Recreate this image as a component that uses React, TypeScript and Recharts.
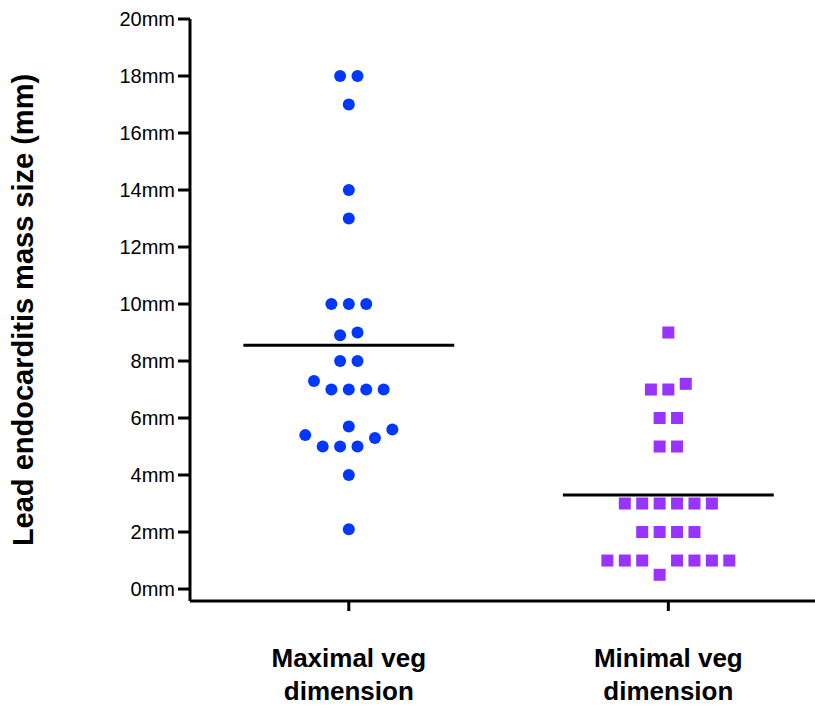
import {
  ReferenceLine,
  Scatter,
  ScatterChart,
  XAxis,
  YAxis,
} from 'recharts'

const maxValues = [18, 18, 17, 14, 13, 10, 10, 10, 8.9, 9, 8, 8, 7.3, 7, 7, 7, 7, 5.7, 5.4, 5.6, 5.3, 5, 5, 5, 4, 2.1]
const maxSlots = [-0.5, 0.5, 0, 0, 0, -1, 0, 1, -0.5, 0.5, -0.5, 0.5, -2, -1, 0, 1, 2, 0, -2.5, 2.5, 1.5, -1.5, -0.5, 0.5, 0, 0]

const minValues = [9, 7, 7, 7.2, 6, 6, 5, 5, 3, 3, 3, 3, 3, 3, 2, 2, 2, 2, 1, 1, 1, 1, 1, 1, 1, 0.5]
const minSlots = [0, -1, 0, 1, -0.5, 0.5, -0.5, 0.5, -2.5, -1.5, -0.5, 0.5, 1.5, 2.5, -1.5, -0.5, 0.5, 1.5, -3.5, -2.5, -1.5, 0.5, 1.5, 2.5, 3.5, -0.5]

const groupLabels = [
  ['Maximal veg', 'dimension'],
  ['Minimal veg', 'dimension'],
]
const yTicks = [0, 2, 4, 6, 8, 10, 12, 14, 16, 18, 20]
const yTitle = 'Lead  endocarditis mass size (mm)'

const SLOT = 0.0545
const FONT = 'Liberation Sans, Arial, Helvetica, sans-serif'

const toPoints = (group: number, values: number[], slots: number[]) =>
  values.map((v, i) => ({ x: group + slots[i] * SLOT, y: v }))

const mean = (values: number[]) => values.reduce((a, b) => a + b, 0) / values.length

const maxData = toPoints(1, maxValues, maxSlots)
const minData = toPoints(2, minValues, minSlots)
const maxMean = mean(maxValues)
const minMean = mean(minValues)

const Dot = (props: any) => <circle cx={props.cx} cy={props.cy} r={6} fill="#0038ff" />
const Square = (props: any) => (
  <rect x={props.cx - 6} y={props.cy - 6} width={12} height={12} fill="#9933ff" />
)

const XTick = (props: any) => {
  const { x, y, payload } = props
  const lines = groupLabels[payload.value - 1] || []
  return (
    <text x={x} y={y} textAnchor="middle" fontFamily={FONT} fontWeight="bold" fontSize={26} fill="#000">
      {lines.map((line, i) => (
        <tspan key={i} x={x} dy={i === 0 ? 54 : 33}>
          {line}
        </tspan>
      ))}
    </text>
  )
}

const YTitle = (props: any) => {
  const vb = props.viewBox
  const x = vb.x + 33
  const y = vb.y + vb.height / 2
  return (
    <text
      x={x}
      y={y}
      transform={`rotate(-90, ${x}, ${y})`}
      textAnchor="middle"
      fontFamily={FONT}
      fontWeight="bold"
      fontSize={29}
      fill="#000"
    >
      {yTitle}
    </text>
  )
}

export default function App() {
  return (
    <div style={{ position: 'absolute', left: 0, top: 0, background: '#fff' }}>
      <ScatterChart width={815} height={715} margin={{ top: 19, right: 0, bottom: 0, left: 0 }}>
        <XAxis
          type="number"
          dataKey="x"
          domain={[0.503, 2.459]}
          ticks={[1, 2]}
          allowDataOverflow
          height={114}
          axisLine={{ stroke: '#000', strokeWidth: 3 }}
          tickLine={{ stroke: '#000', strokeWidth: 3 }}
          tickSize={10}
          tick={<XTick />}
        />
        <YAxis
          type="number"
          dataKey="y"
          domain={[-0.42, 20]}
          ticks={yTicks}
          allowDataOverflow
          width={190}
          axisLine={{ stroke: '#000', strokeWidth: 3 }}
          tickLine={{ stroke: '#000', strokeWidth: 3 }}
          tickSize={12}
          tickMargin={3}
          tickFormatter={(v) => `${v}mm`}
          tick={{ fill: '#000', fontSize: 20, fontFamily: FONT }}
          label={{ content: <YTitle /> }}
        />
        <Scatter data={maxData} shape={<Dot />} isAnimationActive={false} />
        <Scatter data={minData} shape={<Square />} isAnimationActive={false} />
        <ReferenceLine
          segment={[{ x: 0.67, y: maxMean }, { x: 1.33, y: maxMean }]}
          stroke="#000"
          strokeWidth={3}
        />
        <ReferenceLine
          segment={[{ x: 1.67, y: minMean }, { x: 2.33, y: minMean }]}
          stroke="#000"
          strokeWidth={3}
        />
      </ScatterChart>
    </div>
  )
}
